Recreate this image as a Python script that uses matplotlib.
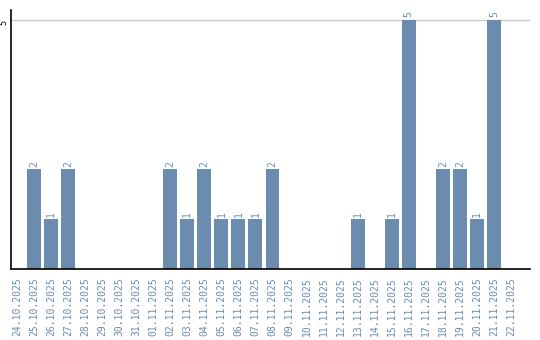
import matplotlib
matplotlib.use("Agg")
import matplotlib.pyplot as plt

dates = ["24.10.2025", "25.10.2025", "26.10.2025", "27.10.2025", "28.10.2025",
         "29.10.2025", "30.10.2025", "31.10.2025", "01.11.2025", "02.11.2025",
         "03.11.2025", "04.11.2025", "05.11.2025", "06.11.2025", "07.11.2025",
         "08.11.2025", "09.11.2025", "10.11.2025", "11.11.2025", "12.11.2025",
         "13.11.2025", "14.11.2025", "15.11.2025", "16.11.2025", "17.11.2025",
         "18.11.2025", "19.11.2025", "20.11.2025", "21.11.2025", "22.11.2025"]
counts = [0, 2, 1, 2, 0, 0, 0, 0, 0, 2, 1, 2, 1, 1, 1, 2, 0, 0, 0, 0,
          1, 0, 1, 5, 0, 2, 2, 1, 5, 0]

bar_color = "#6b8caf"
text_color = "#6a8cb0"

fig = plt.figure(figsize=(5.4, 3.4), dpi=100)
ax = fig.add_axes([0.0204, 0.2088, 0.9606, 0.7618])

x = list(range(len(dates)))
bars = ax.bar(x, counts, width=0.82, color=bar_color, zorder=2)

for xi, c in zip(x, counts):
    if c > 0:
        ax.text(xi, c + 0.05, str(c), rotation=90, ha="center", va="bottom",
                fontsize=7, family="DejaVu Sans Mono", color=text_color)

ax.set_xlim(-0.35, 30.1)
ax.set_ylim(0, 5.2)
ax.set_xticks(x)
ax.set_xticklabels(dates, rotation=90, fontsize=7, family="DejaVu Sans Mono",
                   color=text_color)
ax.set_yticks([5])
ax.set_yticklabels(["5"], rotation=90, fontsize=6, va="top",
                   family="DejaVu Sans Mono")
ax.tick_params(axis="both", length=0)
ax.tick_params(axis="x", pad=6)
ax.tick_params(axis="y", pad=2)
ax.grid(axis="y", color="#c8c8c8", linewidth=1, zorder=1)

ax.spines["top"].set_visible(False)
ax.spines["right"].set_visible(False)
ax.spines["left"].set_color("black")
ax.spines["bottom"].set_color("black")
ax.spines["left"].set_linewidth(1.2)
ax.spines["bottom"].set_linewidth(1.2)

fig.savefig("out.png", dpi=100)
